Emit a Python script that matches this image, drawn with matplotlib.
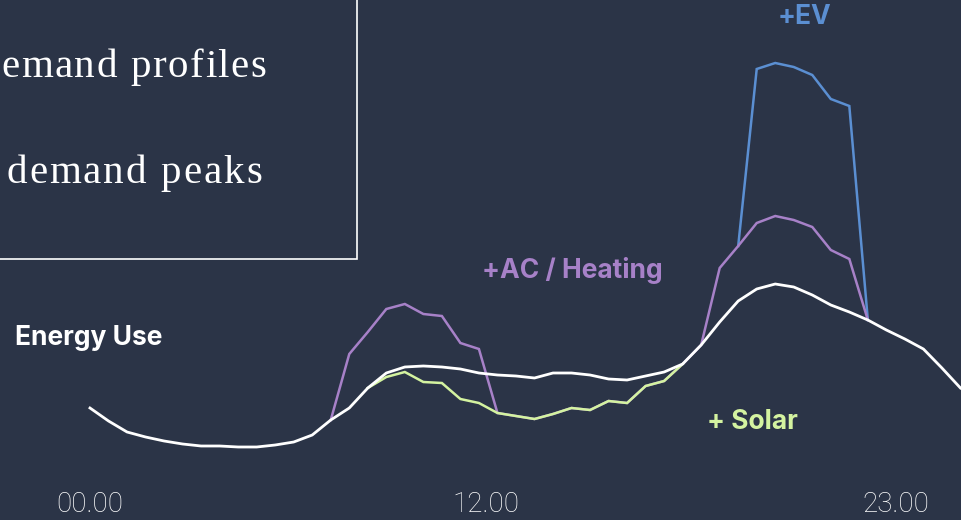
import matplotlib
matplotlib.use("Agg")
import matplotlib.pyplot as plt
import numpy as np
from matplotlib.font_manager import FontProperties
from matplotlib.patches import Rectangle

# half-hourly household demand (kW), index 0 = 00:00
baseline = [1.12, 0.99, 0.88, 0.83, 0.79, 0.76, 0.74, 0.74, 0.73, 0.73,
            0.75, 0.78, 0.85, 1.00, 1.12, 1.32, 1.47, 1.53, 1.54, 1.53,
            1.51, 1.47, 1.45, 1.44, 1.42, 1.47, 1.47, 1.45, 1.41, 1.40,
            1.44, 1.48, 1.56, 1.75, 1.98, 2.19, 2.31, 2.36, 2.33, 2.25,
            2.15, 2.08, 2.00, 1.90, 1.81, 1.71, 1.52, 1.32]

# rooftop solar offsets daytime demand (indices 15..32)
solar_idx = list(range(15, 33))
solar = [1.32, 1.43, 1.48, 1.38, 1.37, 1.21, 1.17, 1.07, 1.04, 1.01,
         1.06, 1.12, 1.10, 1.19, 1.17, 1.34, 1.39, 1.56]

# AC / heating on top of the solar profile (indices 13..42)
ac_idx = list(range(13, 43))
ac = [1.00, 1.66, 1.88, 2.11, 2.16, 2.06, 2.04, 1.77, 1.71, 1.07,
      1.04, 1.01, 1.06, 1.12, 1.10, 1.19, 1.17, 1.34, 1.39, 1.56,
      1.75, 2.52, 2.74, 2.97, 3.04, 3.00, 2.93, 2.70, 2.61, 2.00]

# evening EV charging (indices 35..42)
ev_idx = list(range(35, 43))
ev = [2.74, 4.51, 4.57, 4.53, 4.45, 4.21, 4.14, 2.00]

tick_pos = [0, 21.4, 43.5]
tick_labels = ["00.00", "12.00", "23.00"]

BG = "#2b3447"
WHITE = "#ffffff"
BLUE = "#5b8fd2"
PURPLE = "#a781c8"
GREEN = "#d4f3a0"

W, H = 961, 520
fig = plt.figure(figsize=(W / 100, H / 100), dpi=100)
fig.patch.set_facecolor(BG)
ax = fig.add_axes([0, 0, 1, 1])
ax.set_facecolor(BG)

# 18.52 px per half hour, first sample at x=90 px
step = 18.52
ax.set_xlim(-90 / step, (W - 90) / step)
ax.set_ylim(0, 5.2)
ax.axis("off")

x = np.arange(len(baseline))
ax.plot(ev_idx, ev, color=BLUE, lw=1.8, zorder=2, solid_joinstyle="miter")
ax.plot(ac_idx, ac, color=PURPLE, lw=1.8, zorder=3, solid_joinstyle="miter")
ax.plot(solar_idx, solar, color=GREEN, lw=1.8, zorder=4, solid_joinstyle="miter")
ax.plot(x, baseline, color=WHITE, lw=2.0, zorder=5)

lab = dict(family=["Inter", "DejaVu Sans"], fontweight="bold", va="center")
ax.text(-75 / step, (520 - 338) / 100, "Energy Use", color=WHITE, fontsize=19, ha="left", **lab)
ax.text((482 - 90) / step, (520 - 270) / 100, "+AC / Heating", color=PURPLE, fontsize=19, ha="left", **lab)
ax.text((804 - 90) / step, (520 - 17) / 100, "+EV", color=BLUE, fontsize=19, ha="center", **lab)
ax.text((707 - 90) / step, (520 - 422) / 100, "+ Solar", color=GREEN, fontsize=19, ha="left", **lab)

for p, t in zip(tick_pos, tick_labels):
    ax.text(p, (520 - 505) / 100, t, color=WHITE, fontsize=20, ha="center", va="center",
            family=["Roboto", "DejaVu Sans"], fontweight="light")

# title box, partly outside the canvas
fig.patches.append(Rectangle((-10 / W, 1 - 259 / H), 367 / W, 270 / H, transform=fig.transFigure,
                             facecolor="none", edgecolor=WHITE, lw=1.2))


def tracked(x_right, y_base, s, size, track):
    prop = FontProperties(family="Liberation Serif", size=size)
    r = fig.canvas.get_renderer()
    widths = [r.get_text_width_height_descent(c, prop, ismath=False)[0] for c in s]
    xx = x_right - (sum(widths) + track * (len(s) - 1))
    for c, w in zip(s, widths):
        fig.text(xx / W, 1 - y_base / H, c, color=WHITE, fontproperties=prop,
                 ha="left", va="baseline")
        xx += w + track


tracked(266, 77, "emand profiles", 29.5, 1.5)
tracked(262, 183, "demand peaks", 29.5, 2.0)

fig.savefig("out.png", facecolor=BG)
